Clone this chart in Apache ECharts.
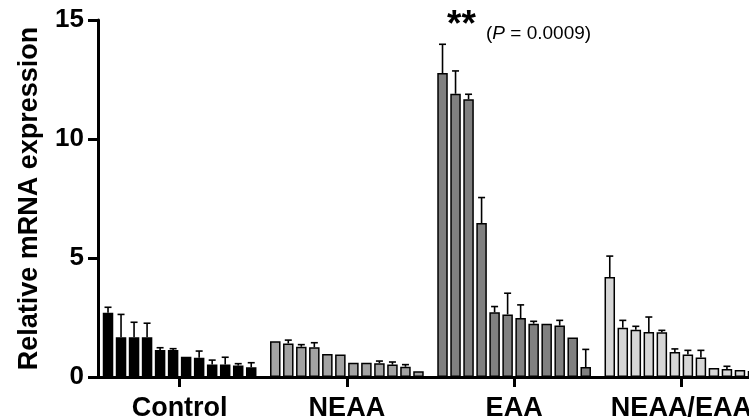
<!DOCTYPE html>
<html>
<head>
<meta charset="utf-8">
<script src="https://cdn.jsdelivr.net/npm/echarts@6/dist/echarts.min.js"></script>
<style>
  html, body { margin: 0; padding: 0; background: #fff; }
  #chart { width: 749px; height: 419px; }
</style>
</head>
<body>
<div id="chart"></div>
<script>
var groups = ['Control', 'NEAA', 'EAA', 'NEAA/EAA'];
var groupColors = ['#000000', '#a3a3a3', '#808080', '#d6d6d6'];

// mean values, 12 bars per group
var controlMean = [2.70, 1.67, 1.67, 1.67, 1.13, 1.13, 0.85, 0.81, 0.53, 0.53, 0.48, 0.41];
var neaaMean    = [1.50, 1.41, 1.27, 1.25, 0.97, 0.95, 0.60, 0.60, 0.58, 0.52, 0.43, 0.24];
var eaaMean     = [12.77, 11.90, 11.67, 6.47, 2.72, 2.63, 2.48, 2.24, 2.24, 2.16, 1.66, 0.42];
var bothMean    = [4.20, 2.07, 1.99, 1.89, 1.88, 1.05, 0.95, 0.82, 0.38, 0.34, 0.29, 0.25];

// upper error (SEM)
var controlErr = [0.23, 0.96, 0.63, 0.59, 0.10, 0.06, 0, 0.28, 0.18, 0.30, 0.08, 0.19];
var neaaErr    = [0, 0.14, 0.09, 0.19, 0, 0, 0, 0, 0.09, 0.11, 0.09, 0];
var eaaErr     = [1.21, 0.96, 0.21, 1.07, 0.24, 0.89, 0.55, 0.10, 0, 0.22, 0, 0.74];
var bothErr    = [0.88, 0.31, 0.14, 0.63, 0.08, 0.13, 0.17, 0.30, 0, 0.11, 0, 0.09];

var means = [controlMean, neaaMean, eaaMean, bothMean];
var errs = [controlErr, neaaErr, eaaErr, bothErr];

var chart = echarts.init(document.getElementById('chart'), null, { renderer: 'canvas' });

var font = '"Liberation Sans", Arial, sans-serif';
var pitch = 13 / 167; // bar spacing as a fraction of a group band

function barX(g, i) {
  return g + (i - 5.5) * pitch;
}

var series = [];
var errData = [];
means.forEach(function (arr, g) {
  series.push({
    type: 'bar',
    name: groups[g],
    xAxisIndex: 1,
    barWidth: 10.5,
    barGap: '-100%',
    itemStyle: { color: groupColors[g], borderColor: '#000', borderWidth: 1.5 },
    data: arr.map(function (v, i) { return [barX(g, i), v]; }),
    z: 2
  });
  arr.forEach(function (v, i) {
    errData.push([barX(g, i), v, errs[g][i]]);
  });
});

// error bars (upper only) drawn through the axes
series.push({
  type: 'custom',
  xAxisIndex: 1,
  z: 3,
  data: errData,
  renderItem: function (params, api) {
    var e = api.value(2);
    if (!e) return null;
    var base = api.coord([api.value(0), api.value(1)]);
    var top = api.coord([api.value(0), api.value(1) + e]);
    var style = { stroke: '#000', lineWidth: 1.6 };
    return {
      type: 'group',
      children: [
        { type: 'line', shape: { x1: base[0], y1: base[1], x2: top[0], y2: top[1] }, style: style },
        { type: 'line', shape: { x1: top[0] - 3.5, y1: top[1], x2: top[0] + 3.5, y2: top[1] }, style: style }
      ]
    };
  }
});

var option = {
  animation: false,
  backgroundColor: '#fff',
  grid: { left: 96, top: 20, width: 669, bottom: 42, outerBoundsMode: 'none', containLabel: false },
  xAxis: [
    {
      type: 'category',
      data: groups,
      axisLine: { lineStyle: { color: '#000', width: 3 } },
      axisTick: { show: true, alignWithLabel: true, interval: 0, length: 10, lineStyle: { color: '#000', width: 3 } },
      axisLabel: { interval: 0, color: '#000', fontFamily: font, fontWeight: 'bold', fontSize: 27, margin: 18, hideOverlap: false }
    },
    {
      type: 'value',
      min: -0.5,
      max: 3.5,
      show: false
    }
  ],
  yAxis: {
    type: 'value',
    min: 0,
    max: 15,
    interval: 5,
    offset: -2,
    name: 'Relative mRNA expression',
    nameLocation: 'middle',
    nameGap: 55,
    nameTextStyle: { color: '#000', fontFamily: font, fontWeight: 'bold', fontSize: 27 },
    axisLine: { show: true, onZero: false, lineStyle: { color: '#000', width: 3 } },
    axisTick: { show: true, length: 10, lineStyle: { color: '#000', width: 3 } },
    axisLabel: { color: '#000', fontFamily: font, fontWeight: 'bold', fontSize: 26, margin: 14 },
    splitLine: { show: false }
  },
  graphic: [
    {
      type: 'text',
      left: 447,
      top: 7,
      style: { text: '**', fill: '#000', font: 'bold 37px ' + font }
    },
    {
      type: 'text',
      left: 486,
      top: 24,
      style: {
        text: '({i|P} = 0.0009)',
        fill: '#000',
        font: '19px ' + font,
        rich: { i: { fontStyle: 'italic', fontSize: 19, fontFamily: font } }
      }
    }
  ],
  series: series
};

chart.setOption(option);
window.addEventListener('resize', chart.resize);
</script>
</body>
</html>
